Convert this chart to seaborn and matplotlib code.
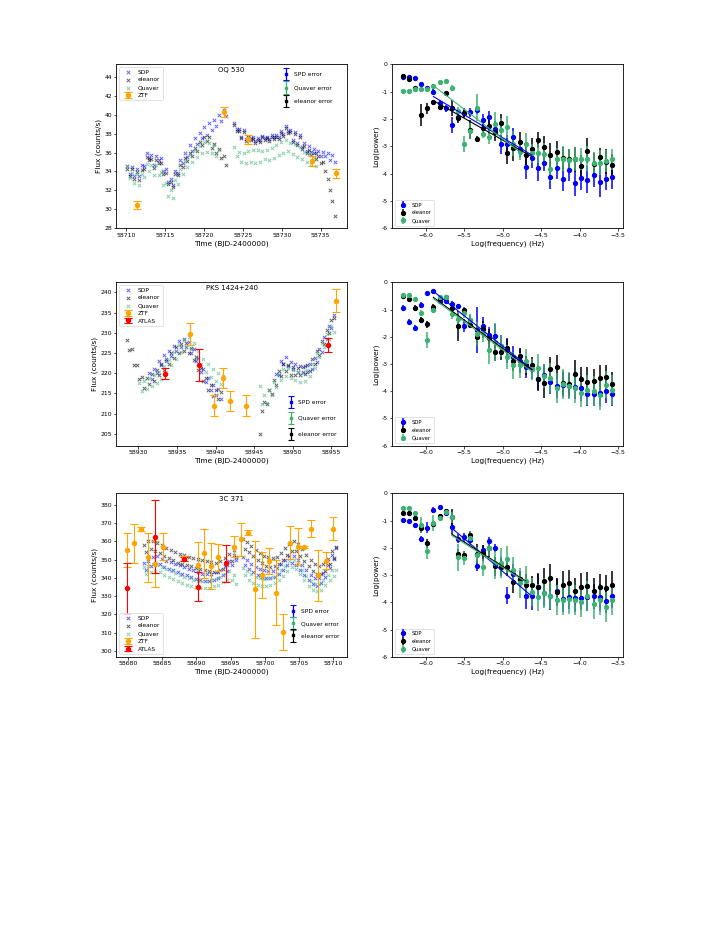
import numpy as np
import matplotlib
matplotlib.use("Agg")
import matplotlib.pyplot as plt
import seaborn as sns
from matplotlib.container import ErrorbarContainer
from matplotlib.legend_handler import HandlerErrorbar

# ---------------- light curves (time offsets in days, flux in counts/s) ----------------
# OQ 530, base 58710
t_oq = [0.10, 0.41, 0.72, 1.03, 1.34, 1.65, 1.96, 2.27, 2.58, 2.89, 3.20, 3.51, 3.82, 4.13, 4.44,
        4.75, 5.06, 5.37, 5.68, 5.99, 6.30, 6.61, 6.92, 7.23, 7.54, 7.85, 8.16, 8.47, 8.78, 9.09,
        9.40, 9.71, 10.02, 10.33, 10.64, 10.95, 11.26, 11.57, 11.88, 12.19, 12.50, 12.81,
        13.9, 14.2, 14.5, 14.8, 15.1, 15.4, 15.7, 16.0, 16.3, 16.6, 16.9, 17.2, 17.5, 17.8, 18.1,
        18.4, 18.7, 19.0, 19.3, 19.6, 19.9, 20.2, 20.5, 20.8, 21.1, 21.4, 21.7, 22.0, 22.3, 22.6,
        22.9, 23.2, 23.5, 23.8, 24.1, 24.4, 24.7, 25.0, 25.3, 25.6, 25.9, 26.2, 26.5, 26.8]
sdp_oq = [34.6, 33.7, 34.5, 33.5, 34.3, 33.5, 34.7, 34.6, 36.0, 35.4, 35.7, 34.7, 35.6, 35.2, 35.4,
          34.0, 34.2, 32.9, 33.2, 32.5, 34.0, 33.8, 35.2, 34.9, 36.0, 35.5, 36.8, 36.2, 37.5, 36.9,
          38.1, 37.5, 38.7, 37.9, 39.1, 38.4, 39.5, 38.8, 40.0, 39.4, 40.5, 39.9,
          39.1, 38.5, 38.5, 37.7, 38.4, 37.4, 37.8, 37.5, 37.6, 37.2, 37.5, 37.3, 37.8, 37.5, 37.7,
          37.4, 37.9, 37.6, 37.9, 37.6, 38.3, 38.0, 38.8, 38.3, 38.4, 37.3, 38.2, 37.0, 37.9, 36.6,
          37.0, 36.2, 36.7, 36.1, 36.4, 35.9, 36.2, 35.6, 36.1, 35.6, 35.9, 35.2, 35.7, 35.0]
ele_oq = [34.3, 33.5, 34.2, 33.2, 33.9, 33.1, 34.1, 34.2, 35.5, 35.2, 35.3, 34.4, 35.2, 34.9, 34.9,
          33.7, 33.8, 32.7, 32.9, 32.3, 33.7, 33.6, 34.7, 34.5, 35.4, 35.1, 36.0, 35.6, 36.5, 36.2,
          37.1, 36.8, 37.6, 37.2, 37.6, 36.5, 36.9, 35.9, 36.4, 35.4, 35.6, 34.7,
          38.9, 38.3, 38.3, 37.5, 38.2, 37.2, 37.6, 37.3, 37.4, 37.0, 37.3, 37.1, 37.6, 37.3, 37.5,
          37.2, 37.7, 37.4, 37.7, 37.4, 38.1, 37.8, 38.6, 38.1, 38.2, 37.1, 38.0, 36.8, 37.6, 36.4,
          36.7, 36.0, 36.3, 35.7, 35.9, 35.3, 35.6, 34.9, 35.0, 34.0, 33.2, 32.0, 30.8, 29.2]
qua_oq = [34.6, 33.3, 33.8, 32.8, 33.7, 32.6, 33.7, 33.4, 34.8, 34.0, 34.7, 33.6, 34.7, 33.6, 33.9,
          32.5, 32.8, 31.4, 32.0, 31.2, 33.1, 32.7, 34.3, 33.7, 35.1, 34.5, 35.7, 35.0, 36.3, 35.5,
          36.7, 35.9, 37.1, 36.1, 37.0, 36.0, 36.8, 35.6, 36.3, np.nan, np.nan, np.nan,
          36.6, 35.6, 36.1, 35.0, 36.0, 34.9, 36.2, 35.0, 36.3, 34.9, 36.3, 35.0, 36.2, 35.3, 36.3,
          35.2, 36.5, 35.4, 36.8, 35.7, 37.1, 36.0, 37.3, 36.2, 37.0, 35.8, 36.9, 35.5, 36.6, 35.3,
          36.1, 35.0, 35.8, 34.8, 35.4, 34.6, np.nan, np.nan, np.nan, np.nan, np.nan, np.nan,
          np.nan, np.nan]
ztf_oq_t = [58711.4, 58722.6, 58725.7, 58733.9, 58737.0]
ztf_oq_f = [30.4, 40.3, 37.4, 35.1, 33.8]
ztf_oq_e = [0.45, 0.5, 0.5, 0.55, 0.5]

# PKS 1424+240, base 58900
t_pks = [28.50, 28.82, 29.14, 29.46, 29.78, 30.10, 30.42, 30.74, 31.06, 31.38, 31.70, 32.02,
         32.34, 32.66, 32.98, 33.30, 33.62, 33.94, 34.26, 34.58, 34.90, 35.22, 35.54, 35.86,
         36.18, 36.50, 36.82, 37.14, 37.46, 37.78, 38.10, 38.42, 38.74, 39.06, 39.38, 39.70,
         40.02, 40.34, 40.66, 40.98,
         45.70, 46.01, 46.32, 46.63, 46.94, 47.25, 47.56, 47.87, 48.18, 48.49, 48.80, 49.11,
         49.42, 49.73, 50.04, 50.35, 50.66, 50.97, 51.28, 51.59, 51.90, 52.21, 52.52, 52.83,
         53.14, 53.45, 53.76, 54.07, 54.38, 54.69, 55.00, 55.31]
sdp_pks = [np.nan] * 9 + [
    220.0, 218.5, 221.0, 220.1, 223.0, 222.1, 224.5, 223.0, 225.6, 224.3, 226.8, 225.6, 228.0,
    226.4, 228.5, 226.4, 227.8, 225.1, 226.0, 223.1, 223.8, 220.3, 221.0, 217.9, 218.7, 215.8,
    217.0, 214.6, 216.0, 213.7, np.nan] + [np.nan] * 7 + [
    219.8, 219.6, 223.0, 222.2, 224.0, 221.9, 222.9, 221.0, 222.3, 220.3, 221.9, 220.2, 221.8,
    220.4, 222.4, 221.1, 223.8, 222.9, 226.1, 225.3, 228.9, 228.4, 231.8, 231.2, 234.5]
ele_pks = [228.3, 225.8, 226.0, 222.1, 222.0, 218.6, 219.0, 216.4, 218.9, 217.4, 219.7, 218.2,
           220.8, 219.5, 222.2, 220.8, 223.5, 222.2, 225.0, 223.8, 226.5, 225.0, 227.3, 225.5,
           227.5, 225.0, 226.3, 223.3, 224.0, 220.7, 221.3, 218.0, 218.8, 215.8, 217.0, 214.3,
           215.8, 213.5, 215.3, np.nan,
           205.0, 210.6, 213.0, 212.4, 215.9, 214.8, 218.3, 217.2, 220.6, 219.4, 222.4, 220.5,
           222.0, 219.6, 221.5, 219.5, 221.4, 219.5, 221.6, 219.8, 222.1, 220.6, 223.5, 222.3,
           225.6, 224.6, 228.1, 227.2, 230.7, 230.0, 233.3, 233.6]
qua_pks = [np.nan] * 5 + [
    217.6, 215.5, 218.2, 216.0, 218.8, 216.9, 219.5, 217.6, 220.4, 218.6, 221.7, 220.2, 223.4,
    222.0, 225.2, 223.6, 226.9, 225.3, 228.3, 226.4, 228.9, 226.0, 227.5, 224.1, 225.5, 222.2,
    223.6, 220.4, 222.2, 219.1, 221.0, 218.2, 220.1, 217.4, 219.4,
    216.8, 212.4, 214.6, 212.6, 215.8, 214.7, 217.9, 216.6, 219.7, 218.3, 221.1, 219.2, 221.4,
    218.8, 220.7, 218.4, 220.3, 217.9, 220.1, 218.1, 220.7, 219.2, 222.4, 221.4, 225.0, 224.0,
    227.6, 226.5, 229.8, 228.6, 231.6, 230.2]
ztf_pks_t = [58936.7, 58939.8, 58940.9, 58941.9, 58944.0, 58955.6]
ztf_pks_f = [229.7, 211.9, 218.9, 213.1, 212.0, 238.0]
ztf_pks_e = [2.7, 2.6, 2.5, 2.5, 2.5, 2.8]
atlas_pks_t = [58933.5, 58937.8, 58954.6]
atlas_pks_f = [219.9, 222.0, 227.0]
atlas_pks_e = [1.3, 3.9, 1.7]

# 3C 371, base 58680
t_3c = [2.30, 2.63, 2.96, 3.29, 3.62, 3.95, 4.28, 4.61, 4.94, 5.27, 5.60, 5.93, 6.26, 6.59,
        6.92, 7.25, 7.58, 7.91, 8.24, 8.57, 8.90, 9.23, 9.56, 9.89, 10.22, 10.55, 10.88, 11.21,
        11.54, 11.87, 12.20, 12.53, 12.86, 13.19, 13.52, 13.85, 14.18, 14.51, 14.84, 15.17,
        15.50, 15.83,
        16.80, 17.11, 17.42, 17.73, 18.04, 18.35, 18.66, 18.97, 19.28, 19.59, 19.90, 20.21,
        20.52, 20.83, 21.14, 21.45, 21.76, 22.07, 22.38, 22.69, 23.00, 23.31, 23.62, 23.93,
        24.24, 24.55, 24.86, 25.17, 25.48, 25.79, 26.10, 26.41, 26.72, 27.03, 27.34, 27.65,
        27.96, 28.27, 28.58, 28.89, 29.20, 29.51, 29.82, 30.13, 30.44]
sdp_3c = [348.0, 344.1, 349.1, 346.6, 351.6, 348.1, 351.8, 347.5, 350.4, 345.9, 349.3, 344.8,
          348.5, 344.1, 347.6, 343.3, 346.9, 342.4, 346.1, 341.6, 345.0, 340.6, 344.1, 339.6,
          343.0, 338.8, 342.4, 338.3, 342.0, 338.1, 342.2, 338.6, 343.0, 339.7, 344.3, 341.4,
          346.6, 344.0, 349.5, 347.1, 352.5, 350.0,
          351.5, 347.3, 349.6, 344.7, 347.7, 343.1, 346.0, 341.5, 344.7, 340.4, 344.1, 339.9,
          343.8, 339.8, 344.0, 340.6, 345.3, 342.2, 347.4, 344.6, 349.8, 346.9, 351.9, 348.3,
          352.0, 347.1, 349.9, 344.5, 347.1, 341.6, 344.1, 338.7, 341.5, 336.5, 339.8, 335.7,
          340.1, 337.1, 342.7, 340.4, 347.1, 345.4, 352.3, 350.6, 356.6]
ele_3c = [358.2, 354.3, 360.4, 355.6, 360.1, 354.6, 359.0, 353.7, 357.8, 352.1, 356.4, 350.8,
          355.3, 349.6, 354.0, 348.4, 353.1, 347.8, 352.4, 346.9, 351.7, 346.3, 351.0, 345.7,
          350.3, 345.0, 349.8, 344.3, 349.0, 343.7, 348.5, 343.2, 348.4, 343.5, 349.0, 344.7,
          350.9, 347.0, 353.3, 349.4, 355.5, 351.4,
          361.5, 356.0, 359.6, 354.0, 357.5, 351.8, 355.4, 349.6, 353.4, 347.9, 352.1, 346.8,
          351.2, 346.1, 351.0, 346.4, 351.6, 347.6, 353.5, 349.8, 356.2, 352.6, 358.8, 354.8,
          360.0, 354.6, 358.5, 352.2, 355.7, 349.3, 352.8, 346.4, 350.0, 343.8, 347.8, 342.2,
          346.7, 342.0, 347.5, 343.8, 350.4, 347.6, 354.5, 351.0, 356.8]
qua_3c = [346.0, 342.1, 346.4, 343.0, 347.5, 343.6, 347.1, 343.0, 345.9, 341.6, 345.0, 340.5,
          343.7, 339.3, 342.6, 338.3, 341.6, 337.3, 340.6, 336.3, 339.7, 335.4, 338.9, 334.8,
          338.4, 334.4, 338.1, 334.3, 338.2, 334.6, 338.6, 335.3, 339.6, 336.2, 340.7, 337.6,
          342.1, 339.1, 344.0, 339.0, 341.5, 336.6,
          345.5, 341.4, 343.6, 338.7, 341.9, 337.2, 340.6, 336.3, 340.0, 335.8, 339.6, 335.7,
          339.9, 336.0, 340.5, 337.0, 341.9, 338.8, 344.1, 341.2, 346.6, 343.7, 349.0, 346.1,
          349.8, 344.8, 347.5, 341.9, 344.3, 338.6, 341.1, 335.6, 338.5, 333.4, 336.8, 332.6,
          336.8, 333.5, 338.7, 336.0, 341.7, 339.0, 344.3, 340.8, 344.5]
ztf_3c_t = [58679.8, 58680.8, 58681.9, 58682.9, 58684.0, 58685.1, 58688.2, 58690.2, 58691.1,
            58692.2, 58693.2, 58695.5, 58696.5, 58697.6, 58698.5, 58699.6, 58700.6, 58701.7,
            58702.6, 58703.7, 58704.9, 58705.7, 58706.8, 58707.8, 58708.9, 58710.0]
ztf_3c_f = [355.3, 358.9, 366.8, 351.2, 347.6, 357.1, 350.7, 347.0, 353.4, 346.5, 351.2, 357.1,
            361.1, 364.8, 333.8, 341.5, 349.4, 331.8, 310.4, 359.3, 357.1, 357.1, 367.0, 341.5,
            349.4, 367.0]
ztf_3c_e = [9.3, 10.5, 1.2, 13.7, 12.8, 7.3, 1.5, 12.8, 13.4, 12.5, 7.5, 5.8, 9.2, 1.4, 26.7,
            12.8, 7.0, 17.8, 10.0, 8.9, 10.0, 0.6, 4.6, 13.9, 4.6, 6.4]
atlas_3c_t = [58679.9, 58684.0, 58688.2, 58690.2, 58694.4]
atlas_3c_f = [334.2, 362.6, 350.3, 335.1, 348.0]
atlas_3c_e = [13.8, 20.0, 1.3, 8.0, 10.0]

# ---------------- power spectra ----------------
log_freq = [-6.30, -6.22, -6.14, -6.06, -5.98, -5.90, -5.82, -5.74, -5.66, -5.58, -5.50, -5.42,
            -5.34, -5.26, -5.18, -5.10, -5.02, -4.94, -4.86, -4.78, -4.70, -4.62, -4.54, -4.46,
            -4.38, -4.30, -4.22, -4.14, -4.06, -3.98, -3.90, -3.82, -3.74, -3.66, -3.58]

psd_oq_sdp = [-0.45, -0.48, -0.51, -0.73, -0.88, -1.00, -1.43, -1.61, -2.22, -1.93, -1.77, -1.76,
              -1.67, -2.05, -1.94, -2.38, -2.93, -2.93, -2.67, -3.10, -3.74, -3.44, -3.78, -3.60,
              -4.12, -3.78, -4.20, -3.86, -4.33, -4.15, -4.22, -4.05, -4.30, -4.18, -4.11]
psd_oq_sdp_err = [0.06, 0.06, 0.06, 0.08, 0.08, 0.1, 0.12, 0.12, 0.28, 0.15, 0.18, 0.15, 0.15,
                  0.25, 0.25, 0.3, 0.35, 0.35, 0.35, 0.3, 0.45, 0.35, 0.5, 0.3, 0.45, 0.4, 0.45,
                  0.4, 0.5, 0.45, 0.5, 0.45, 0.55, 0.4, 0.45]
psd_oq_ele = [-0.43, -0.54, -0.88, -1.85, -1.61, -1.37, -1.55, -1.06, -1.59, -1.98, -1.79, -2.40,
              -2.73, -2.34, -2.24, -2.49, -2.16, -3.26, -3.07, -2.83, -3.32, -3.10, -2.77, -3.04,
              -3.32, -3.21, -3.44, -3.48, -3.48, -3.72, -3.16, -3.65, -3.40, -3.56, -3.67]
psd_oq_ele_err = [0.06, 0.08, 0.1, 0.4, 0.2, 0.08, 0.12, 0.08, 0.3, 0.15, 0.12, 0.35, 0.12, 0.3,
                  0.3, 0.3, 0.35, 0.4, 0.45, 0.35, 0.35, 0.4, 0.3, 0.4, 0.45, 0.4, 0.4, 0.4,
                  0.45, 0.4, 0.45, 0.4, 0.35, 0.45, 0.4]
psd_oq_qua = [-0.97, -0.96, -0.92, -0.91, -0.90, -0.78, -0.66, -0.61, -0.86, -1.70, -2.92, -2.45,
              -1.59, -2.55, -2.67, -2.20, -2.40, -2.30, -2.90, -3.20, -2.93, -3.26, -3.25, -3.28,
              -3.82, -3.45, -3.45, -3.50, -3.47, -3.47, -3.45, -3.60, -3.60, -3.55, -3.48]
psd_oq_qua_err = [0.05, 0.05, 0.05, 0.05, 0.05, 0.05, 0.05, 0.05, 0.12, 0.15, 0.3, 0.3, 0.5,
                  0.15, 0.25, 0.45, 0.45, 0.4, 0.45, 0.3, 0.4, 0.35, 0.35, 0.4, 0.45, 0.4, 0.45,
                  0.4, 0.45, 0.4, 0.45, 0.4, 0.45, 0.4, 0.4]

psd_pks_sdp = [-0.94, -1.46, -1.67, -0.83, -0.38, -0.33, -0.67, -0.70, -0.79, -0.88, -1.59,
               -1.40, -1.74, -1.59, -1.95, -1.98, -2.35, -2.50, -2.75, -2.90, -3.10, -3.20,
               -3.55, -3.40, -3.65, -3.80, -3.78, -3.82, -3.85, -3.90, -4.10, -4.10, -4.08,
               -3.99, -4.11]
psd_pks_sdp_err = [0.1, 0.1, 0.1, 0.1, 0.05, 0.05, 0.08, 0.08, 0.1, 0.1, 0.25, 0.2, 0.85, 0.3,
                   0.3, 0.45, 0.4, 0.45, 0.4, 0.45, 0.4, 0.35, 0.45, 0.4, 0.45, 0.45, 0.45, 0.45,
                   0.45, 0.45, 0.45, 0.45, 0.45, 0.45, 0.45]
psd_pks_ele = [-0.51, -0.61, -0.94, -1.38, -1.54, -0.91, -0.57, -0.53, -0.95, -1.59, -1.01,
               -1.55, -2.00, -1.73, -2.06, -2.55, -2.55, -2.40, -2.90, -2.70, -3.05, -3.05,
               -3.57, -3.70, -3.20, -3.12, -3.70, -3.75, -3.37, -3.55, -3.67, -3.64, -3.50,
               -3.48, -3.73]
psd_pks_ele_err = [0.06, 0.08, 0.1, 0.12, 0.12, 0.12, 0.08, 0.08, 0.2, 0.55, 0.12, 0.12, 0.35,
                   0.3, 0.35, 0.35, 0.3, 0.3, 0.35, 0.3, 0.35, 0.3, 0.4, 0.55, 0.45, 0.45, 0.45,
                   0.4, 0.5, 0.45, 0.55, 0.45, 0.45, 0.45, 0.45]
psd_pks_qua = [-0.48, -0.48, -0.61, -1.12, -2.13, -1.01, -0.55, -0.52, -1.16, -1.35, -1.12,
               -1.38, -1.90, -1.85, -2.50, -2.20, -2.35, -2.75, -3.05, -3.05, -2.90, -3.20,
               -3.15, -3.45, -3.50, -3.87, -3.75, -3.80, -3.90, -4.05, -3.95, -3.98, -4.15,
               -3.77, -3.97]
psd_pks_qua_err = [0.05, 0.05, 0.05, 0.12, 0.3, 0.1, 0.06, 0.06, 0.2, 0.25, 0.2, 0.2, 0.45,
                   0.35, 0.5, 0.7, 0.4, 0.45, 0.5, 0.45, 0.45, 0.4, 0.5, 0.45, 0.55, 0.55, 0.55,
                   0.5, 0.55, 0.55, 0.55, 0.55, 0.55, 0.5, 0.55]

psd_3c_sdp = [-0.99, -1.00, -1.18, -1.68, -1.27, -0.62, -0.51, -0.73, -1.24, -1.66, -1.62, -1.70,
              -2.66, -2.08, -1.76, -2.01, -2.70, -3.75, -2.95, -3.15, -3.76, -3.78, -3.42, -3.67,
              -3.78, -3.60, -3.86, -3.80, -3.85, -3.83, -3.82, -3.78, -3.82, -3.95, -3.77]
psd_3c_sdp_err = [0.06, 0.06, 0.08, 0.12, 0.2, 0.1, 0.06, 0.08, 0.25, 0.15, 0.15, 0.15, 0.2,
                  0.2, 0.15, 0.15, 0.35, 0.3, 0.35, 0.3, 0.5, 0.5, 0.5, 0.45, 0.5, 0.45, 0.5,
                  0.45, 0.5, 0.45, 0.5, 0.45, 0.5, 0.45, 0.45]
psd_3c_ele = [-0.71, -0.74, -0.89, -1.29, -1.84, -1.13, -0.83, -0.65, -0.88, -2.24, -2.27, -1.52,
              -2.21, -2.20, -2.02, -2.68, -2.70, -2.70, -3.25, -3.14, -3.35, -3.37, -3.42, -3.23,
              -3.10, -3.62, -3.35, -3.30, -3.60, -3.42, -3.40, -3.60, -3.45, -3.48, -3.35]
psd_3c_ele_err = [0.06, 0.06, 0.08, 0.15, 0.15, 0.1, 0.08, 0.08, 0.3, 0.2, 0.15, 0.15, 0.35,
                  0.3, 0.3, 0.35, 0.3, 0.35, 0.4, 0.3, 0.4, 0.35, 0.45, 0.5, 0.5, 0.5, 0.5, 0.5,
                  0.5, 0.5, 0.5, 0.5, 0.5, 0.5, 0.5]
psd_3c_qua = [-0.54, -0.54, -0.73, -1.17, -2.12, -1.09, -0.90, -0.67, -0.88, -2.35, -2.37, -1.65,
              -2.27, -2.72, -1.99, -2.56, -2.56, -2.42, -2.82, -3.30, -3.20, -3.62, -3.82, -3.65,
              -3.75, -3.90, -3.92, -3.87, -3.90, -4.00, -3.75, -4.07, -3.93, -4.18, -3.93]
psd_3c_qua_err = [0.05, 0.05, 0.08, 0.3, 0.3, 0.3, 0.08, 0.06, 0.2, 0.5, 0.25, 0.25, 0.3, 0.3,
                  0.3, 0.6, 0.55, 0.5, 0.5, 0.55, 0.55, 0.5, 0.5, 0.55, 0.5, 0.55, 0.55, 0.55,
                  0.55, 0.55, 0.55, 0.55, 0.55, 0.55, 0.55]

# power-law fits: [x_start, x_end, y_start, y_end]
fit_oq_sdp = [-5.90, -4.62, -1.18, -3.32]
fit_oq_ele = [-5.90, -4.62, -1.33, -3.38]
fit_oq_qua = [-5.90, -4.78, -0.78, -3.20]
fit_pks_sdp = [-5.90, -4.62, -0.33, -3.20]
fit_pks_ele = [-5.90, -4.62, -0.55, -3.22]
fit_pks_qua = [-5.90, -4.62, -0.60, -3.28]
fit_3c_sdp = [-5.66, -4.62, -1.28, -3.78]
fit_3c_ele = [-5.66, -4.70, -1.50, -3.22]
fit_3c_qua = [-5.66, -4.70, -1.55, -3.25]

C_SDP, C_ELE, C_QUA = "blue", "black", "mediumseagreen"
C_ZTF, C_ATL = "orange", "red"

plt.rcParams.update({
    "font.family": ["DejaVu Sans"],
    "axes.linewidth": 0.6,
    "xtick.major.size": 1.8, "ytick.major.size": 1.8,
    "xtick.major.width": 0.5, "ytick.major.width": 0.5,
    "xtick.major.pad": 1.5, "ytick.major.pad": 1.5,
    "xtick.labelsize": 4.4, "ytick.labelsize": 4.4,
    "axes.labelsize": 5.3, "axes.labelpad": 1.8,
    "legend.fontsize": 4.2, "patch.linewidth": 0.5,
})

fig = plt.figure(figsize=(7.23, 9.35), dpi=100)
col_x = [0.1611, 0.5426]
col_w = 0.3185
rows = [(0.7558, 0.1754), (0.5235, 0.1745), (0.2975, 0.1749)]


def draw_lightcurve(ax, base, t, sdp, ele, qua, ztf, atlas, name, xlim, ylim, yticks,
                    main_loc, err_loc, err_anchor, err_spacing):
    tt = base + np.array(t)
    handles = []
    for y, c, lab in ((sdp, C_SDP, "SDP"), (ele, C_ELE, "eleanor"), (qua, C_QUA, "Quaver")):
        sns.scatterplot(x=tt, y=np.array(y, dtype=float), color=c, s=6, marker="x",
                        linewidth=0.7, alpha=0.6, ax=ax, legend=False)
        coll = ax.collections[-1]
        coll.set_label(lab)
        handles.append(coll)
    for data, c, lab in ((ztf, C_ZTF, "ZTF"), (atlas, C_ATL, "ATLAS")):
        if data is None:
            continue
        eb = ax.errorbar(data[0], data[1], yerr=data[2], fmt="o", color=c, ms=2.9,
                         elinewidth=0.8, capsize=2.8, capthick=0.8, label=lab, zorder=4)
        handles.append(eb)
    leg1 = ax.legend(handles=handles, loc=main_loc, fontsize=4.2, handlelength=2.0,
                     borderpad=0.4, labelspacing=0.45, markerscale=1.0)
    ax.add_artist(leg1)

    err_handles = []
    for c, lab in ((C_SDP, "SPD error"), (C_QUA, "Quaver error"), (C_ELE, "eleanor error")):
        eb = ax.errorbar([np.nan], [np.nan], yerr=[1.0], fmt="s", color=c, ms=2.0,
                         elinewidth=0.9, capsize=2.4, capthick=0.8, label=lab)
        err_handles.append(eb)
    ax.legend(handles=err_handles, loc=err_loc, bbox_to_anchor=err_anchor, frameon=False,
              fontsize=4.2, handlelength=1.3, handletextpad=0.6, labelspacing=err_spacing,
              handler_map={ErrorbarContainer: HandlerErrorbar(xerr_size=0.5, yerr_size=1.05)})

    ax.text(0.5, 0.965, name, transform=ax.transAxes, ha="center", va="center", fontsize=5.0)
    ax.set_xlim(*xlim)
    ax.set_ylim(*ylim)
    ax.set_yticks(yticks)
    ax.set_xlabel("Time (BJD-2400000)")
    ax.set_ylabel("Flux (counts/s)")


def draw_psd(ax, sdp, sdp_e, ele, ele_e, qua, qua_e, fits):
    handles = []
    for y, e, c, lab in ((sdp, sdp_e, C_SDP, "SDP"), (ele, ele_e, C_ELE, "eleanor"),
                         (qua, qua_e, C_QUA, "Quaver")):
        eb = ax.errorbar(log_freq, y, yerr=e, fmt="o", color=c, ms=2.8, elinewidth=1.1,
                         capsize=0, label=lab)
        handles.append(eb)
    for f, c in zip(fits, (C_SDP, C_ELE, C_QUA)):
        sns.lineplot(x=f[:2], y=f[2:], color=c, lw=0.8, ax=ax, zorder=5)
    ax.legend(handles=handles, loc="lower left", fontsize=3.8, borderpad=0.45,
              labelspacing=0.55, handlelength=2.0,
              handler_map={ErrorbarContainer: HandlerErrorbar(xerr_size=0.5, yerr_size=0.7)})
    ax.set_xlim(-6.434, -3.443)
    ax.set_ylim(-6, 0)
    ax.set_yticks([-6, -5, -4, -3, -2, -1, 0])
    ax.set_yticklabels(["-6", "-5", "-4", "-3", "-2", "-1", "0"])
    ax.set_xticks([-6.0, -5.5, -5.0, -4.5, -4.0, -3.5])
    ax.set_xlabel("Log(frequency) (Hz)")
    ax.set_ylabel("Log(power)")


axes = [[fig.add_axes([col_x[c], b, col_w, h]) for c in range(2)] for (b, h) in rows]

draw_lightcurve(axes[0][0], 58710, t_oq, sdp_oq, ele_oq, qua_oq,
                (ztf_oq_t, ztf_oq_f, ztf_oq_e), None, "OQ 530",
                (58708.71, 58738.35), (27.94, 45.38), np.arange(28, 45, 2),
                "upper left", "upper right", (0.96, 0.985), 1.45)
draw_lightcurve(axes[1][0], 58900, t_pks, sdp_pks, ele_pks, qua_pks,
                (ztf_pks_t, ztf_pks_f, ztf_pks_e), (atlas_pks_t, atlas_pks_f, atlas_pks_e),
                "PKS 1424+240", (58927.15, 58957.0), (202.1, 242.5), np.arange(205, 241, 5),
                "upper left", "lower right", (0.98, 0.02), 1.9)
draw_lightcurve(axes[2][0], 58680, t_3c, sdp_3c, ele_3c, qua_3c,
                (ztf_3c_t, ztf_3c_f, ztf_3c_e), (atlas_3c_t, atlas_3c_f, atlas_3c_e),
                "3C 371", (58678.3, 58712.0), (296.7, 386.4), np.arange(300, 381, 10),
                "lower left", "lower right", (0.99, 0.08), 1.2)

draw_psd(axes[0][1], psd_oq_sdp, psd_oq_sdp_err, psd_oq_ele, psd_oq_ele_err,
         psd_oq_qua, psd_oq_qua_err, (fit_oq_sdp, fit_oq_ele, fit_oq_qua))
draw_psd(axes[1][1], psd_pks_sdp, psd_pks_sdp_err, psd_pks_ele, psd_pks_ele_err,
         psd_pks_qua, psd_pks_qua_err, (fit_pks_sdp, fit_pks_ele, fit_pks_qua))
draw_psd(axes[2][1], psd_3c_sdp, psd_3c_sdp_err, psd_3c_ele, psd_3c_ele_err,
         psd_3c_qua, psd_3c_qua_err, (fit_3c_sdp, fit_3c_ele, fit_3c_qua))

fig.savefig("out.png", dpi=100)
